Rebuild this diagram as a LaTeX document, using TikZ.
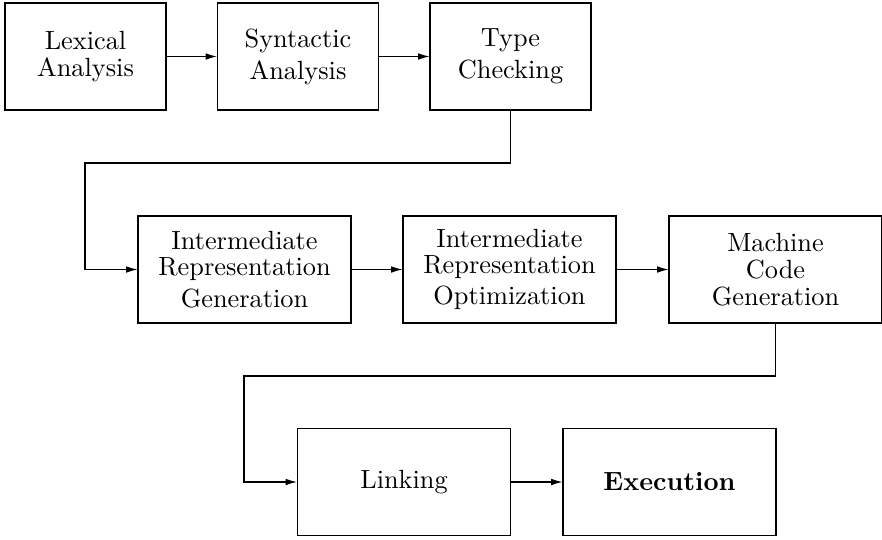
\documentclass[tikz,border=0pt]{standalone}
\usetikzlibrary{arrows.meta}
\newcommand\stagefont{\fontsize{10}{0}\selectfont\setlength{\lineskip}{3pt}}
\begin{document}
\begin{tikzpicture}[x=0.38pt,y=-0.38pt,
  stage/.style={draw, rectangle, align=center, inner sep=2pt,
    font=\stagefont, minimum height=40.66pt},
  narrow/.style={stage, minimum width=61.18pt},
  wide/.style={stage, minimum width=80.94pt},
  flow/.style={-{Latex[length=4.3pt,width=2.5pt]}, line width=0.4pt}]
\useasboundingbox (0,0) rectangle (882,539);

% first row
\node[narrow] (lex) at (85.5,56.5) {Lexical\\Analysis};
\node[narrow] (syn) at (298,56.5) {Syntactic\\Analysis};
\node[narrow] (typ) at (510.5,56.5) {Type\\Checking};

% second row
\node[wide] (irg) at (244.5,269.5) {Intermediate\\Representation\\Generation};
\node[wide] (iro) at (509.5,269.5) {Intermediate\\Representation\\Optimization};
\node[wide] (mcg) at (775.5,269.5) {Machine\\Code\\Generation};

% third row
\node[wide] (lnk) at (404,482) {Linking};
\node[wide] (exe) at (669.5,482) {\textbf{Execution}};

% links along each row
\draw[flow] (lex) -- (syn);
\draw[flow] (syn) -- (typ);
\draw[flow] (irg) -- (iro);
\draw[flow] (iro) -- (mcg);
\draw[flow] (lnk) -- (exe);

% wrap-around links between rows
\coordinate (w1a) at (510.5,163);
\coordinate (w1b) at (85,163);
\coordinate (w2a) at (775.5,376);
\coordinate (w2b) at (244,376);
\draw[flow] (typ.south) -- (w1a) -- (w1b) |- (irg.west);
\draw[flow] (mcg.south) -- (w2a) -- (w2b) |- (lnk.west);
\end{tikzpicture}
\end{document}
